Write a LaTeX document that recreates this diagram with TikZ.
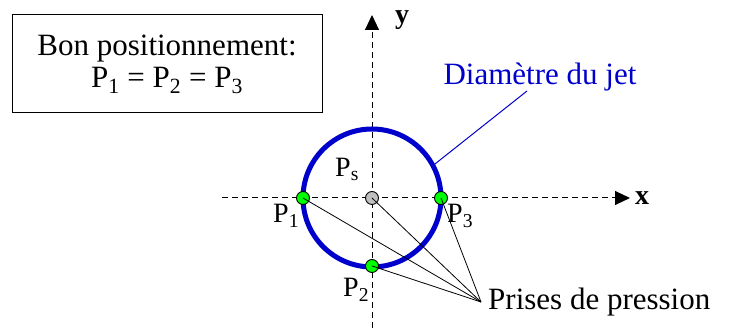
\documentclass[tikz,border=0pt]{standalone}
\usepackage{fontspec}
\setmainfont{Liberation Serif}
\usetikzlibrary{arrows.meta, calc}
\definecolor{jetblue}{RGB}{0,0,204}

\begin{document}
\begin{tikzpicture}[x=1pt, y=1pt,
    axis/.style={dashed, line width=1pt, dash pattern=on 6pt off 4pt, -{Triangle[length=15pt, width=14pt]}},
    tap/.style={circle, draw=black, line width=0.9pt, fill=green, minimum size=13pt, inner sep=0pt},
    lbl/.style={font=\fontsize{28}{32}\selectfont, inner sep=0pt}]
    \useasboundingbox (0,0) rectangle (731,328);
    \coordinate (O) at (372,130);
    \coordinate (tip) at (481,26);
    \coordinate (lead) at (527,237);
    % axes
    \draw[axis] (222,130) -- (630,130);
    \draw[axis] (372,0) -- (372,313);
    \node[lbl, font=\fontsize{28}{32}\selectfont\bfseries, anchor=west] (xl) at (635,130) {x};
    \node[lbl, font=\fontsize{28}{32}\selectfont\bfseries, anchor=west] (yl) at (395,308) {y};
    % jet
    \draw[jetblue, line width=5pt] (O) circle (69);
    \draw[jetblue, line width=1pt] ($(O)+(28:69)$) -- (lead);
    \node[lbl, text=jetblue, font=\fontsize{31}{36}\selectfont, anchor=base] (diam) at (540,243) {Diamètre du jet};
    % prises
    \node[tap] (p1) at (303,130) {};
    \node[tap] (p3) at (441,130) {};
    \node[tap] (p2) at (372,62) {};
    \node[tap, fill=black!25] (ps) at (O) {};
    \foreach \p in {p1,p2,p3,ps}
        \draw[line width=0.8pt] (\p.center) -- (tip);
    \node[lbl, anchor=base west] (l1) at (273,105) {P\textsubscript{1}};
    \node[lbl, anchor=base west] (l3) at (447,105) {P\textsubscript{3}};
    \node[lbl, anchor=base west] (l2) at (343,31) {P\textsubscript{2}};
    \node[lbl, anchor=base west] (ls) at (335,151) {P\textsubscript{s}};
    \node[lbl, font=\fontsize{31}{36}\selectfont, anchor=base west] (prises) at (488,18) {Prises de pression};
    % box
    \draw[line width=1pt] (12,215) rectangle (322,313);
    \node[lbl, font=\fontsize{31}{36}\selectfont, anchor=base] (bon) at (167,272) {Bon positionnement:};
    \node[lbl, font=\fontsize{31}{36}\selectfont, anchor=base] (eq) at (167,240) {P\textsubscript{1} = P\textsubscript{2} = P\textsubscript{3}};
\end{tikzpicture}
\end{document}
